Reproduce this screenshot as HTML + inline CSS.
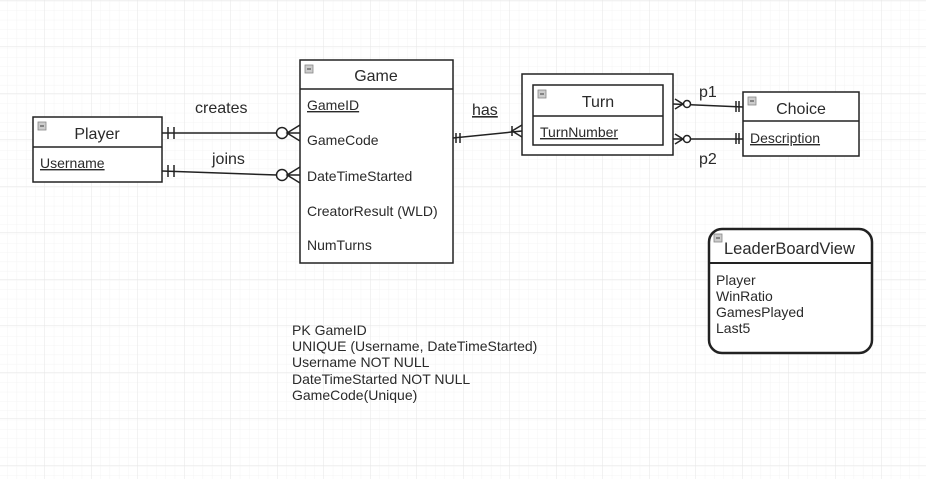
<!DOCTYPE html>
<html><head><style>
html,body{margin:0;padding:0;background:#fff;}
svg{display:block;font-family:"Liberation Sans",Arial,sans-serif;}
</style></head><body>
<svg width="926" height="479" viewBox="0 0 926 479" xmlns="http://www.w3.org/2000/svg">
<defs>
<pattern id="minor" width="9.3" height="9.3" patternUnits="userSpaceOnUse" x="45" y="11">
<path d="M9.3 0V9.3H0" fill="none" stroke="#f4f4f4" stroke-width="1"/></pattern>
<pattern id="major" width="46.5" height="46.5" patternUnits="userSpaceOnUse" x="45" y="-46">
<path d="M46.5 0V46.5H0" fill="none" stroke="#e6e6e6" stroke-width="1"/></pattern>
</defs>
<rect width="926" height="479" fill="#fff"/>
<rect width="926" height="479" fill="url(#minor)"/>
<rect width="926" height="479" fill="url(#major)"/>
<g stroke="#222" stroke-width="1.5" fill="#fff">
<rect x="33" y="117" width="129" height="65"/>
<line x1="33" y1="147" x2="162" y2="147"/>
<rect x="300" y="60" width="153" height="203"/>
<line x1="300" y1="89" x2="453" y2="89"/>
<rect x="522" y="74" width="151" height="81"/>
<rect x="533" y="85" width="130" height="60"/>
<line x1="533" y1="116" x2="663" y2="116"/>
<rect x="743" y="92" width="116" height="64"/>
<line x1="743" y1="121" x2="859" y2="121"/>
<rect x="709" y="229" width="163" height="124" rx="13" stroke-width="2.5"/>
<line x1="709" y1="263" x2="872" y2="263" stroke-width="2"/>
</g>
<g fill="#ccc" stroke="#888" stroke-width="0.8">
<rect x="38" y="122" width="8" height="8"/>
<rect x="305" y="65" width="8" height="8"/>
<rect x="538" y="90" width="8" height="8"/>
<rect x="748" y="97" width="8" height="8"/>
<rect x="714" y="234" width="8" height="8"/>
</g>
<g stroke="#555" stroke-width="1.2">
<line x1="40" y1="126" x2="44" y2="126"/><line x1="307" y1="69" x2="311" y2="69"/>
<line x1="540" y1="94" x2="544" y2="94"/><line x1="750" y1="101" x2="754" y2="101"/>
<line x1="716" y1="238" x2="720" y2="238"/>
</g>
<g stroke="#222" stroke-width="1.5" fill="none">
<line x1="162" y1="133" x2="277" y2="133"/>
<line x1="168" y1="127" x2="168" y2="139"/><line x1="174" y1="127" x2="174" y2="139"/>
<circle cx="282" cy="133" r="5.5" fill="#fff"/>
<path d="M300 125L287 133L300 141M287 133H300"/>
<line x1="162" y1="171" x2="277" y2="175"/>
<line x1="168" y1="165" x2="168" y2="177"/><line x1="174" y1="165" x2="174" y2="177"/>
<circle cx="282" cy="175" r="5.5" fill="#fff"/>
<path d="M300 167L287 175L300 183M287 175H300"/>
<line x1="453" y1="138" x2="522" y2="131"/>
<line x1="456" y1="133" x2="456" y2="143"/><line x1="460" y1="133" x2="460" y2="143"/>
<path d="M522 125L512 131L522 137"/><line x1="512" y1="126" x2="512" y2="136"/>
<line x1="673" y1="104" x2="743" y2="107"/>
<path d="M675 99L683 104L675 109"/>
<circle cx="687" cy="104" r="3.5" fill="#fff"/>
<line x1="736" y1="101" x2="736" y2="112"/><line x1="739" y1="101" x2="739" y2="112"/>
<line x1="673" y1="139" x2="743" y2="139"/>
<path d="M675 134L683 139L675 144"/>
<circle cx="687" cy="139" r="3.5" fill="#fff"/>
<line x1="736" y1="133" x2="736" y2="144"/><line x1="739" y1="133" x2="739" y2="144"/>
</g>
<g fill="#2a2a2a">
<text x="97" y="139" font-size="16" text-anchor="middle">Player</text>
<text x="40" y="168" font-size="14" text-decoration="underline">Username</text>
<text x="376" y="81" font-size="16" text-anchor="middle">Game</text>
<text x="307" y="110" font-size="14" text-decoration="underline">GameID</text>
<text x="307" y="145" font-size="14">GameCode</text>
<text x="307" y="181" font-size="14">DateTimeStarted</text>
<text x="307" y="216" font-size="14">CreatorResult (WLD)</text>
<text x="307" y="250" font-size="14">NumTurns</text>
<text x="598" y="107" font-size="16" text-anchor="middle">Turn</text>
<text x="540" y="137" font-size="14" text-decoration="underline">TurnNumber</text>
<text x="801" y="114" font-size="16" text-anchor="middle">Choice</text>
<text x="750" y="143" font-size="14" text-decoration="underline">Description</text>
<text x="724" y="254" font-size="16.5">LeaderBoardView</text>
<text x="716" y="285" font-size="14">Player</text>
<text x="716" y="301" font-size="14">WinRatio</text>
<text x="716" y="317" font-size="14">GamesPlayed</text>
<text x="716" y="333" font-size="14">Last5</text>
<text x="195" y="113" font-size="16">creates</text>
<text x="212" y="164" font-size="16">joins</text>
<text x="472" y="115" font-size="16" text-decoration="underline">has</text>
<text x="699" y="97" font-size="16">p1</text>
<text x="699" y="164" font-size="16">p2</text>
<g font-size="14">
<text x="292" y="335">PK GameID</text>
<text x="292" y="351">UNIQUE (Username, DateTimeStarted)</text>
<text x="292" y="367">Username NOT NULL</text>
<text x="292" y="384">DateTimeStarted NOT NULL</text>
<text x="292" y="400">GameCode(Unique)</text>
</g>
</g>
</svg>
</body></html>
